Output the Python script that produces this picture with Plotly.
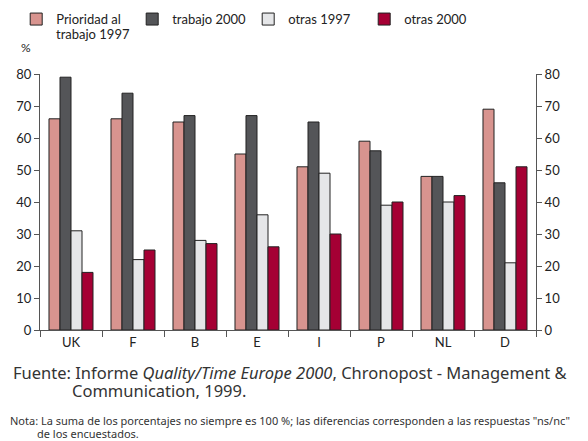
"""Work priority vs. other priorities, 1997 and 2000, by country."""

import plotly.graph_objects as go

countries = ["UK", "F", "B", "E", "I", "P", "NL", "D"]
trabajo_1997 = [66, 66, 65, 55, 51, 59, 48, 69]
trabajo_2000 = [79, 74, 67, 67, 65, 56, 48, 46]
otras_1997 = [31, 22, 28, 36, 49, 39, 40, 21]
otras_2000 = [18, 25, 27, 26, 30, 40, 42, 51]

series = [
    ("Prioridad al", trabajo_1997, "#d8948f"),
    ("trabajo 2000", trabajo_2000, "#545558"),
    ("otras 1997", otras_1997, "#e5e6e8"),
    ("otras 2000", otras_2000, "#a50034"),
]

FONT = "Lato, 'Noto Sans', sans-serif"
NOTE_FONT = "'Noto Sans', sans-serif"
TEXT = "#222222"
NOTE = "#333333"
AXIS = "#555555"

# the page body adds an 8px offset, so figure coords are screen - 8
fig = go.Figure()
for name, values, color in series:
    fig.add_trace(
        go.Bar(
            x=countries,
            y=values,
            name=name,
            marker=dict(color=color, line=dict(color="#222222", width=1)),
        )
    )

# invisible trace to carry the mirrored right axis
fig.add_trace(
    go.Scatter(x=countries, y=otras_2000, yaxis="y2", mode="markers",
               marker=dict(opacity=0), showlegend=False, hoverinfo="skip")
)

axis_common = dict(
    range=[0, 80],
    dtick=10,
    showline=True,
    linecolor=AXIS,
    ticks="outside",
    ticklen=5,
    tickcolor=AXIS,
    showgrid=False,
    zeroline=False,
    tickfont=dict(size=13),
)

fig.update_layout(
    width=588,
    height=441,
    margin=dict(l=32, r=60, t=66, b=119, autoexpand=False),
    paper_bgcolor="white",
    plot_bgcolor="white",
    font=dict(family=FONT, size=13, color=TEXT),
    barmode="group",
    bargap=0.29,
    bargroupgap=0,
    legend=dict(
        orientation="h",
        x=-0.048,
        y=1.273,
        xanchor="left",
        yanchor="top",
        entrywidth=71,
        font=dict(size=13),
        traceorder="normal",
    ),
    xaxis=dict(
        showline=True,
        linecolor=AXIS,
        ticks="outside",
        tickson="boundaries",
        ticklen=6,
        tickcolor=AXIS,
        showgrid=False,
        tickfont=dict(size=13),
    ),
    yaxis=axis_common,
    yaxis2=dict(axis_common, overlaying="y", side="right"),
    annotations=[
        dict(text="trabajo 1997", xref="paper", yref="paper", x=0.028,
             y=1.158, xanchor="left", yanchor="middle", showarrow=False,
             font=dict(size=13)),
        dict(text="%", xref="paper", yref="paper", x=-0.028, y=1.105,
             xanchor="center", yanchor="middle",
             showarrow=False, font=dict(size=12)),
        dict(text="Fuente: Informe <i>Quality/Time Europe 2000</i>, "
                  "Chronopost - Management &",
             xref="paper", yref="paper", x=-0.058, y=-0.166, xanchor="left",
             yanchor="middle", showarrow=False,
             font=dict(family=NOTE_FONT, size=16.5, color=NOTE)),
        dict(text="Communication, 1999.",
             xref="paper", yref="paper", x=0.06, y=-0.236, xanchor="left",
             yanchor="middle", showarrow=False,
             font=dict(family=NOTE_FONT, size=16.5, color=NOTE)),
        dict(text="Nota: La suma de los porcentajes no siempre es 100 %; las "
                  "diferencias corresponden a las respuestas \"ns/nc\"",
             xref="paper", yref="paper", x=-0.064, y=-0.355, xanchor="left",
             yanchor="middle", showarrow=False,
             font=dict(family=NOTE_FONT, size=11, color=NOTE)),
        dict(text="de los encuestados.",
             xref="paper", yref="paper", x=-0.01, y=-0.404, xanchor="left",
             yanchor="middle", showarrow=False,
             font=dict(family=NOTE_FONT, size=11, color=NOTE)),
    ],
)

fig.write_html("out.html")
